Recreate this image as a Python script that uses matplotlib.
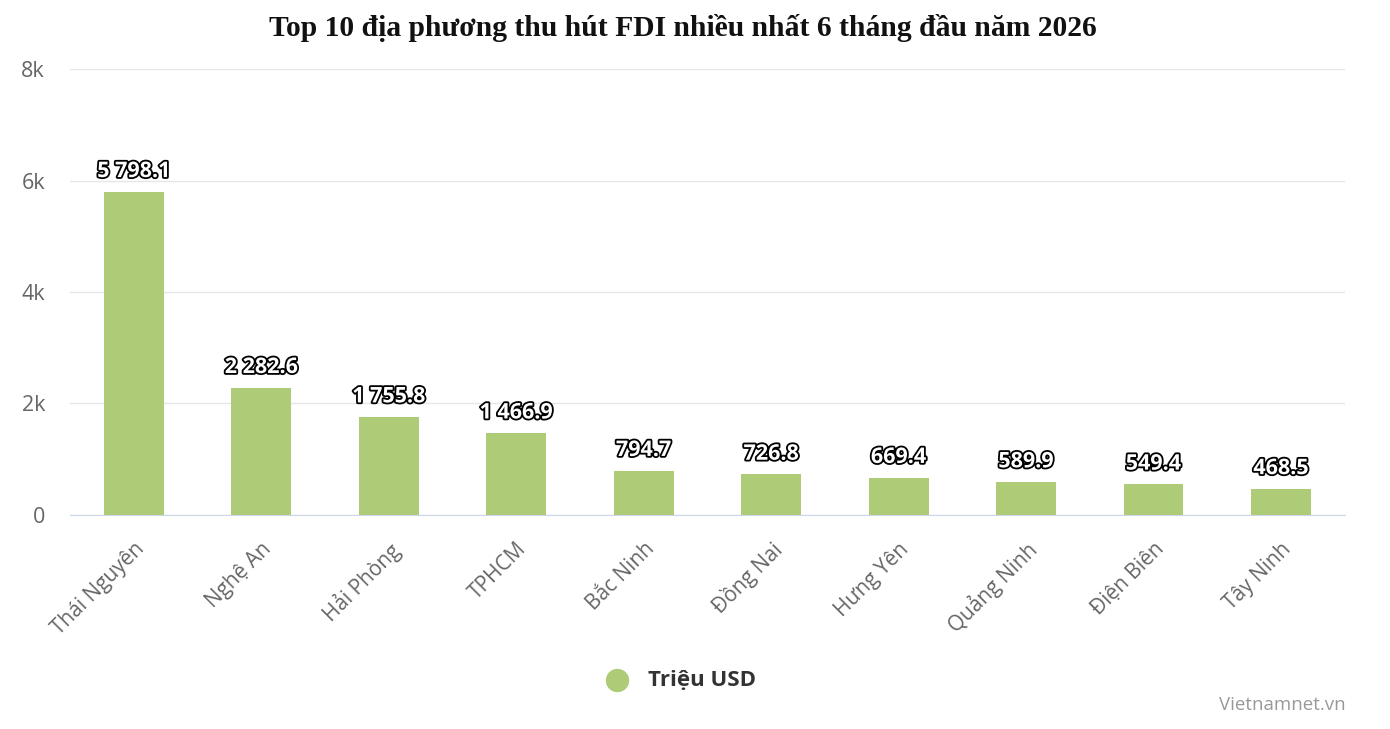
import matplotlib
matplotlib.use("Agg")
import matplotlib.pyplot as plt
import matplotlib.patheffects as pe
from matplotlib.ticker import FuncFormatter

# -----------------------------
# Data
# -----------------------------
provinces = ["Thái Nguyên", "Nghệ An", "Hải Phòng", "TPHCM", "Bắc Ninh",
             "Đồng Nai", "Hưng Yên", "Quảng Ninh", "Điện Biên", "Tây Ninh"]
fdi = [5798.1, 2282.6, 1755.8, 1466.9, 794.7, 726.8, 669.4, 589.9, 549.4, 468.5]
series_name = "Triệu USD"
title = "Top 10 địa phương thu hút FDI nhiều nhất 6 tháng đầu năm 2026"

bar_color = "#aecb78"

plt.rcParams['font.family'] = ['Open Sans', 'DejaVu Sans']

fig = plt.figure(figsize=(13.9, 7.29), dpi=100)
ax = fig.add_axes([0.0504, 0.2936, 0.917, 0.6117])

x = range(len(provinces))
ax.bar(x, fdi, width=0.47, color=bar_color, zorder=3)

# data labels: white text, thin dark outline
for xi, v in zip(x, fdi):
    whole = int(v)
    s = f"{whole:,}".replace(",", " ") + f".{round((v - whole) * 10):d}"
    ax.annotate(s, (xi, v), xytext=(0, 7), textcoords="offset points",
                ha="center", va="bottom", fontsize=15.5, fontweight="bold",
                color="white", zorder=5,
                path_effects=[pe.withStroke(linewidth=2.6, foreground="black")])

ax.set_xlim(-0.5, len(provinces) - 0.5)
ax.set_ylim(0, 8000)
ax.set_yticks([0, 2000, 4000, 6000, 8000])
ax.yaxis.set_major_formatter(FuncFormatter(lambda v, p: "0" if v == 0 else f"{int(v/1000)}k"))
ax.grid(axis="y", color="#e6e6e6", linewidth=1, zorder=0)

ax.set_xticks(list(x))
ax.set_xticklabels(provinces, rotation=45, ha="right", rotation_mode="anchor")
ax.tick_params(axis="x", length=0, pad=17, labelsize=15, labelcolor="#666666")
ax.tick_params(axis="y", length=0, pad=18, labelsize=15.5, labelcolor="#666666")

for side in ["top", "right", "left"]:
    ax.spines[side].set_visible(False)
ax.spines["bottom"].set_color("#ccd6eb")

fig.text(0.491, 0.962, title, ha="center", va="center", fontsize=21.3,
         fontweight="bold", family=["Liberation Serif", "DejaVu Serif"], color="#111111")

# legend
ax.scatter([], [], s=250, color=bar_color, label=series_name)
leg = fig.legend(loc="center", bbox_to_anchor=(0.486, 0.067), frameon=False,
                 prop={"size": 16, "weight": "bold"}, handletextpad=0.4)
for t in leg.get_texts():
    t.set_color("#333333")

fig.text(0.968, 0.02, "Vietnamnet.vn", ha="right", va="bottom", fontsize=13.5, color="#999999")

fig.savefig("out.png", dpi=100)
